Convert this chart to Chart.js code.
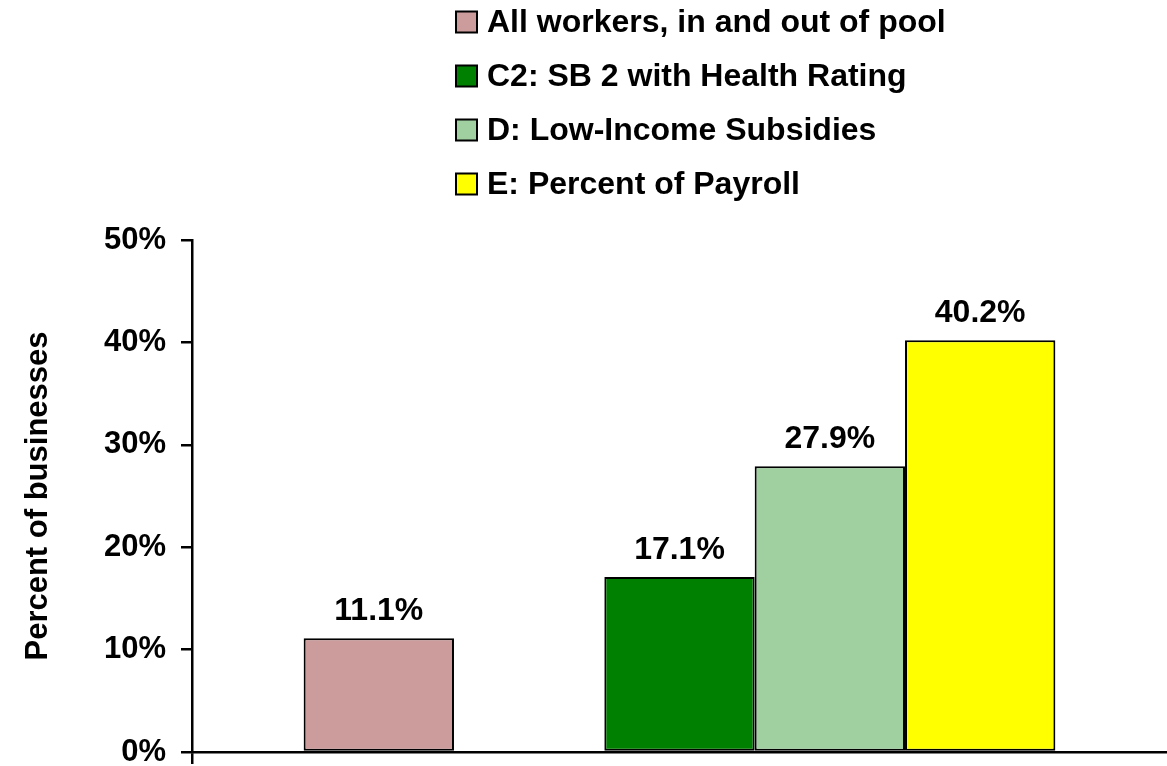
<!DOCTYPE html>
<html>
<head>
<meta charset="utf-8">
<script src="https://cdn.jsdelivr.net/npm/chart.js@4.4.1/dist/chart.umd.min.js"></script>
<style>
  html, body { margin: 0; padding: 0; background: #ffffff; }
  #wrap { width: 1167px; height: 766px; }
</style>
</head>
<body>
<div id="wrap"><canvas id="chart" width="1167" height="766"></canvas></div>
<script>
// Share of businesses under each scenario
const categories = [''];
const seriesLabels = [
  'All workers, in and out of pool',
  '',                                   // empty slot between the baseline and the proposals
  'C2: SB 2 with Health Rating',
  'D: Low-Income Subsidies',
  'E: Percent of Payroll'
];
const seriesValues = [11.1, null, 17.1, 27.9, 40.2];
const seriesColors = ['#CC9B9B', 'rgba(0,0,0,0)', '#008000', '#A0D0A0', '#FFFF00'];
const yTicks = [0, 10, 20, 30, 40, 50];

const FONT = 'Arial, "Liberation Sans", Helvetica, sans-serif';

const datasets = seriesLabels.map((label, i) => ({
  label: label,
  data: [seriesValues[i]],
  backgroundColor: seriesColors[i],
  borderColor: seriesValues[i] === null ? 'rgba(0,0,0,0)' : '#000000',
  borderWidth: 2,
  borderSkipped: false
}));

// Value labels above each bar
const valueLabels = {
  id: 'valueLabels',
  afterDatasetsDraw(chart) {
    const ctx = chart.ctx;
    ctx.save();
    ctx.font = 'bold 32px ' + FONT;
    ctx.fillStyle = '#000000';
    ctx.textAlign = 'center';
    ctx.textBaseline = 'alphabetic';
    chart.data.datasets.forEach((ds, i) => {
      const meta = chart.getDatasetMeta(i);
      meta.data.forEach((bar, j) => {
        const v = ds.data[j];
        if (v === null || v === undefined) return;
        ctx.fillText(v.toFixed(1) + '%', bar.x, bar.y - 18);
      });
    });
    ctx.restore();
  }
};

// Stacked legend list above the plot
const stackedLegend = {
  id: 'stackedLegend',
  afterDraw(chart) {
    const ctx = chart.ctx;
    const left = 456, firstRow = 22, rowStep = 54, box = 21;
    ctx.save();
    ctx.font = 'bold 32px ' + FONT;
    ctx.textAlign = 'left';
    ctx.textBaseline = 'middle';
    let row = 0;
    chart.data.datasets.forEach((ds) => {
      if (!ds.label) return;
      const cy = firstRow + row * rowStep;
      ctx.fillStyle = ds.backgroundColor;
      ctx.fillRect(left, cy - box / 2, box, box);
      ctx.lineWidth = 2;
      ctx.strokeStyle = '#000000';
      ctx.strokeRect(left, cy - box / 2, box, box);
      ctx.fillStyle = '#000000';
      ctx.fillText(ds.label, left + box + 10, cy + 1);
      row++;
    });
    ctx.restore();
  }
};

new Chart(document.getElementById('chart'), {
  type: 'bar',
  data: { labels: categories, datasets: datasets },
  plugins: [valueLabels, stackedLegend],
  options: {
    responsive: false,
    animation: false,
    layout: { padding: { top: 240, right: 0, bottom: 0, left: 0 } },
    datasets: { bar: { categoryPercentage: 0.771, barPercentage: 1.0 } },
    plugins: {
      legend: { display: false },
      tooltip: { enabled: false }
    },
    scales: {
      x: {
        grid: {
          display: true,
          drawOnChartArea: false,
          offset: true,
          color: (c) => (c.index === 0 ? '#000000' : 'rgba(0,0,0,0)'),
          lineWidth: 2.5,
          tickLength: 12
        },
        border: { display: true, color: '#000000', width: 2.5 },
        ticks: { display: false },
        afterFit(scale) { scale.height = 14; }
      },
      y: {
        min: 0,
        max: 50,
        afterBuildTicks(scale) { scale.ticks = yTicks.map(v => ({ value: v })); },
        grid: { display: true, drawOnChartArea: false, color: '#000000', lineWidth: 2.5, tickLength: 11 },
        border: { display: true, color: '#000000', width: 2.5 },
        ticks: {
          color: '#000000',
          padding: 15,
          font: { family: FONT, size: 31, weight: 'bold' },
          callback: (v) => v + '%'
        },
        title: {
          display: true,
          text: 'Percent of businesses',
          color: '#000000',
          font: { family: FONT, size: 31, weight: 'bold' },
          padding: { top: 20, bottom: 0 }
        },
        afterFit(scale) {
          scale.width = 192;
          scale.paddingTop = 0;
          scale.paddingBottom = 0;
        }
      }
    }
  }
});
</script>
</body>
</html>
